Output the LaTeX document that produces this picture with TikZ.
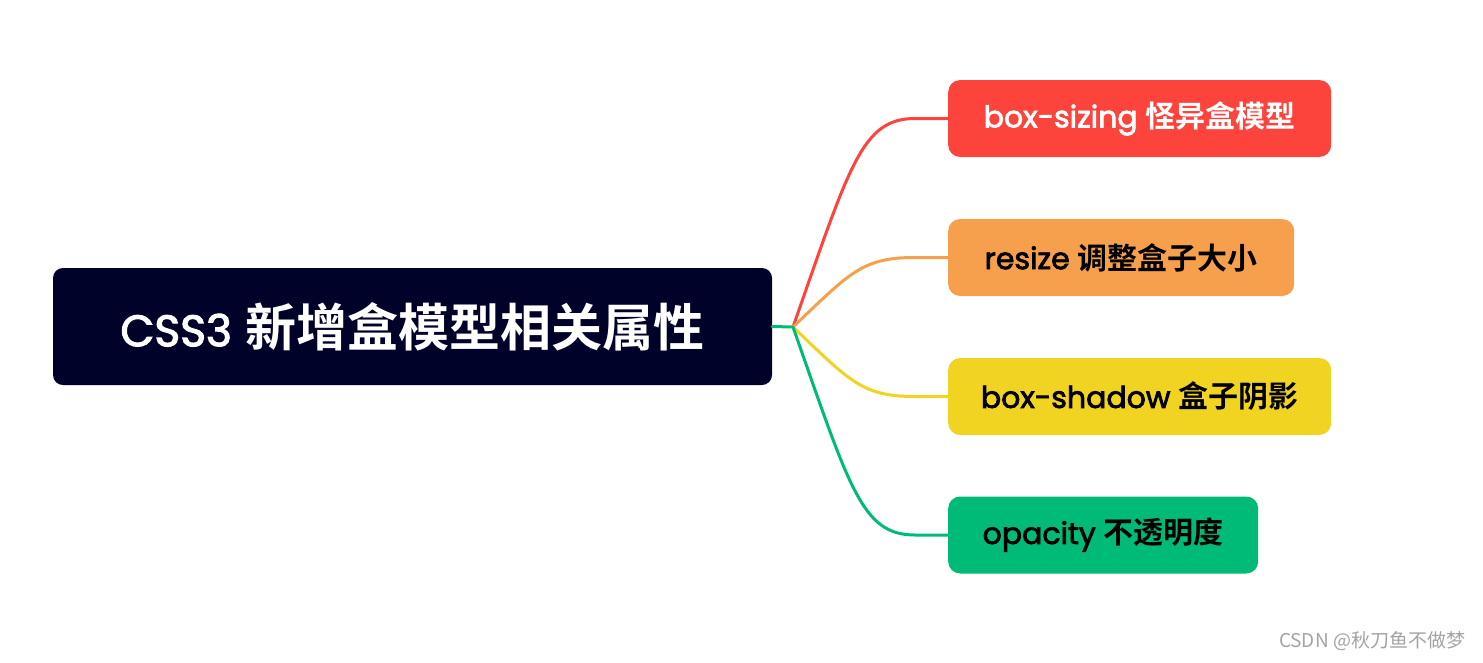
\documentclass[tikz,border=0pt]{standalone}
\usepackage{fontspec}
\usepackage{xcolor}
\usetikzlibrary{positioning, calc}
\setmainfont{Poppins}
\newfontfamily\latinfont{Poppins}[FakeBold=2.5]
\newfontfamily\zhfont{Noto Sans CJK SC}[BoldFont={Noto Sans CJK SC Bold}]
\newfontfamily\markfont{Noto Sans CJK SC}
\newcommand\lat[1]{{\latinfont #1}}
\newcommand\zh[1]{{\zhfont\bfseries #1}}
\definecolor{rootnavy}{HTML}{000229}
\definecolor{topicred}{HTML}{FC443D}
\definecolor{topicorange}{HTML}{F6A04D}
\definecolor{topicyellow}{HTML}{F1D321}
\definecolor{topicgreen}{HTML}{00BA77}
\definecolor{markgray}{HTML}{A3A3A3}

\begin{document}
\begin{tikzpicture}[
  x=1pt, y=-1pt,
  root/.style={rectangle, rounded corners=10pt, fill=rootnavy,
               minimum width=719pt, minimum height=117pt,
               text=white, font=\fontsize{51}{56}\selectfont, align=center},
  topic/.style={rectangle, rounded corners=12pt, anchor=west,
                minimum height=77pt, inner xsep=31pt,
                font=\fontsize{30}{36}\selectfont, align=center},
  branch/.style={line width=3pt, line cap=round},
]
  \useasboundingbox (0,0) rectangle (1483,662);

  \node[root] (main) at (412.5,326.5)
        {\lat{\fontsize{44}{56}\selectfont CSS3} \zh{新增盒模型相关属性}};
  \coordinate (hub) at (793,327);

  % Topics
  \node[topic, fill=topicred, text=white, minimum width=383pt] (sizing)
        at (948,118.5) {\lat{box-sizing} \zh{怪异盒模型}};
  \node[topic, fill=topicorange, minimum width=346pt] (resize)
        at (948,257.5) {\lat{resize} \zh{调整盒子大小}};
  \node[topic, fill=topicyellow, minimum width=383pt] (shadow)
        at (948,396.5) {\lat{box-shadow} \zh{盒子阴影}};
  \node[topic, fill=topicgreen, minimum width=310pt] (opacity)
        at (948,535) {\lat{opacity} \zh{不透明度}};

  % Branches
  \draw[branch, topicgreen] (main.east) -- (hub);
  \foreach \b/\c/\y in {sizing/topicred/118.5, resize/topicorange/257.5,
                        shadow/topicyellow/396.5, opacity/topicgreen/535}
    \draw[branch, \c] (hub) .. controls (850,{327+0.78*(\y-327)})
          and (862,\y) .. ($(\b.west)+(-33,0)$) -- (\b.west);

  % Watermark
  \node[text=markgray, font=\markfont\fontsize{19}{22}\selectfont]
        (mark) at (1372,641) {CSDN @秋刀鱼不做梦};

\end{tikzpicture}
\end{document}
